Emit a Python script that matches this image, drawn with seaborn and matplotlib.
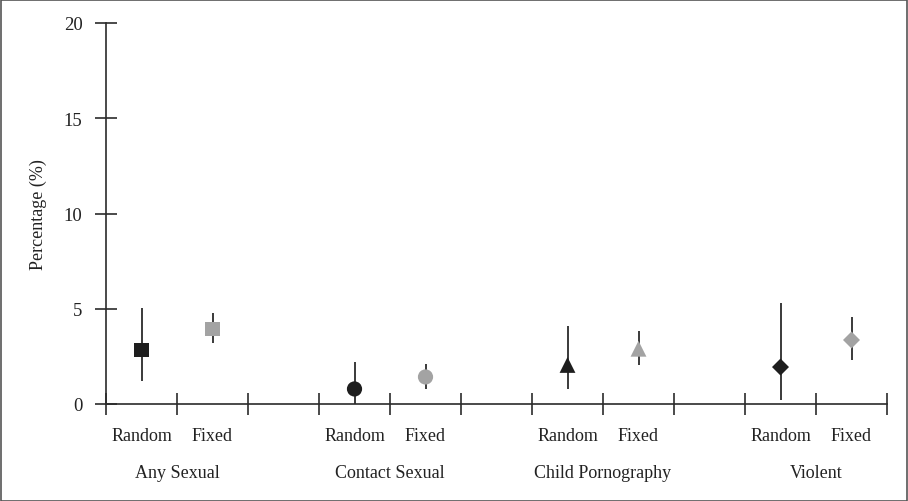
import matplotlib
matplotlib.use("Agg")
import matplotlib.pyplot as plt
import matplotlib.transforms as mtransforms
from matplotlib.patches import Rectangle
import seaborn as sns
import pandas as pd
import numpy as np

groups = ["Any Sexual", "Contact Sexual", "Child Pornography", "Violent"]
methods = ["Random", "Fixed"]
estimate = [2.83, 3.94, 0.79, 1.42, 2.05, 2.90, 1.94, 3.36]
ci_low = [1.20, 3.20, 0.00, 0.80, 0.80, 2.05, 0.20, 2.30]
ci_high = [5.04, 4.78, 2.20, 2.10, 4.10, 3.83, 5.30, 4.57]
group_markers = ["s", "o", "^", "D"]
method_colors = {"Random": "#1e1e1e", "Fixed": "#a3a3a3"}
yticks = [0, 5, 10, 15, 20]

rows = []
i = 0
for g_idx, g in enumerate(groups):
    for m_idx, m in enumerate(methods):
        rows.append(dict(group=g, method=m, x=g_idx * 3 + 0.5 + m_idx,
                         est=estimate[i], lo=ci_low[i], hi=ci_high[i]))
        i += 1
df = pd.DataFrame(rows)

sns.set_style("ticks")
plt.rcParams['font.family'] = ['Liberation Serif', 'DejaVu Serif']
plt.rcParams['font.size'] = 12

fig = plt.figure(figsize=(9.08, 5.02), dpi=100)
ax = fig.add_axes([106/908, 1 - 405/502, (887 - 106)/908, (405 - 24)/502])

axis_col = "#2b2b2b"
# CI lines
ax.vlines(df["x"], df["lo"], df["hi"], color=axis_col, linewidth=1.3, zorder=2)

sizes = {"s": 110, "o": 120, "^": 130, "D": 75}
for g, mk in zip(groups, group_markers):
    sub = df[df["group"] == g]
    sns.scatterplot(data=sub, x="x", y="est", hue="method", palette=method_colors,
                    marker=mk, s=sizes[mk], edgecolor="none", legend=False, ax=ax, zorder=3)

ax.set_xlim(0, 11)
ax.set_ylim(0, 20)
ax.set_xticks(np.arange(0, 12))
ax.set_xticklabels([])
ax.set_yticks(yticks)
ax.set_yticklabels([str(v) for v in yticks])
ax.tick_params(axis="both", direction="inout", length=16, width=1.2, color=axis_col,
               labelsize=13.5, labelcolor="#222222", bottom=True, left=True)
ax.tick_params(axis="y", pad=9)

for s in ["top", "right"]:
    ax.spines[s].set_visible(False)
for s in ["left", "bottom"]:
    ax.spines[s].set_color(axis_col)
    ax.spines[s].set_linewidth(1.2)

ax.set_xlabel("")
ax.set_ylabel("Percentage (%)", fontsize=13, color="#222222", labelpad=12)

trans = mtransforms.blended_transform_factory(ax.transData, fig.transFigure)
for _, r in df.iterrows():
    ax.text(r["x"], 1 - 437/502, r["method"], transform=trans, ha="center", va="center",
            fontsize=13, color="#222222")
for g_idx, g in enumerate(groups):
    ax.text(g_idx * 3 + 1.0, 1 - 474/502, g, transform=trans, ha="center", va="center",
            fontsize=13, color="#222222")

fig.patches.append(Rectangle((0.5/908, 0.5/502), 1 - 1.5/908, 1 - 1.5/502,
                             transform=fig.transFigure, fill=False,
                             edgecolor="#555555", linewidth=1.2))

fig.savefig("out.png", dpi=100)
